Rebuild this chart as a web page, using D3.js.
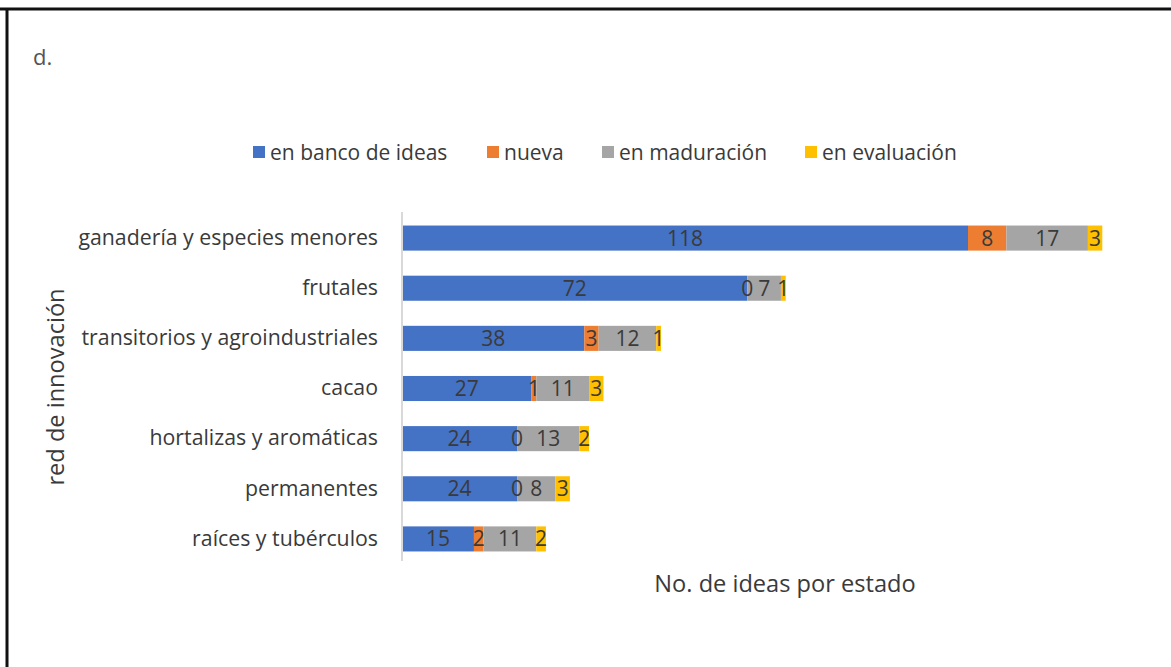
<!DOCTYPE html>
<html>
<head>
<meta charset="utf-8">
<script src="https://cdn.jsdelivr.net/npm/d3@7"></script>
<style>
  body { margin: 0; background: #fff; }
  text { font-family: "Open Sans", "Noto Sans", sans-serif; }
</style>
</head>
<body>
<svg id="chart"></svg>
<script>
// data
const categories = [
  "ganadería y especies menores",
  "frutales",
  "transitorios y agroindustriales",
  "cacao",
  "hortalizas y aromáticas",
  "permanentes",
  "raíces y tubérculos"
];
const seriesNames = ["en banco de ideas", "nueva", "en maduración", "en evaluación"];
const bancoIdeas = [118, 72, 38, 27, 24, 24, 15];
const nueva      = [8, 0, 3, 1, 0, 0, 2];
const maduracion = [17, 7, 12, 11, 13, 8, 11];
const evaluacion = [3, 1, 1, 3, 2, 3, 2];
const colours = ["#4472C4", "#ED7D31", "#A5A5A5", "#FFC000"];

const width = 1171, height = 667;
const svg = d3.select("#chart").attr("width", width).attr("height", height);

// page frame
svg.append("line").attr("x1", 0).attr("x2", width).attr("y1", 9).attr("y2", 9)
  .attr("stroke", "#111").attr("stroke-width", 3);
svg.append("line").attr("x1", 7).attr("x2", 7).attr("y1", 9).attr("y2", height)
  .attr("stroke", "#111").attr("stroke-width", 3);

svg.append("text").attr("x", 33).attr("y", 65)
  .attr("font-size", 22).attr("fill", "#555").text("d.");

const table = categories.map((c, i) => ({
  cat: c,
  "en banco de ideas": bancoIdeas[i],
  "nueva": nueva[i],
  "en maduración": maduracion[i],
  "en evaluación": evaluacion[i]
}));
const stacked = d3.stack().keys(seriesNames)(table);

const x = d3.scaleLinear().domain([0, 118]).range([402, 968]);
const y = d3.scaleBand().domain(categories).range([213, 564]).paddingInner(0.5).paddingOuter(0.25);

// bars
const layer = svg.append("g").selectAll("g").data(stacked).join("g")
  .attr("fill", (d, i) => colours[i]);
layer.selectAll("rect").data(d => d).join("rect")
  .attr("x", d => x(d[0]))
  .attr("y", d => y(d.data.cat))
  .attr("width", d => x(d[1]) - x(d[0]))
  .attr("height", y.bandwidth());

// value labels
const lab = svg.append("g").selectAll("g").data(stacked).join("g");
lab.selectAll("text").data(d => d.map(v => ({v, key: d.key}))).join("text")
  .attr("x", d => (x(d.v[0]) + x(d.v[1])) / 2)
  .attr("y", d => y(d.v.data.cat) + y.bandwidth() / 2)
  .attr("dy", "0.36em")
  .attr("text-anchor", "middle")
  .attr("font-size", 21)
  .attr("fill", "#3a3a3a")
  .text(d => d.v.data[d.key]);

// y axis
const yAxis = svg.append("g").attr("transform", "translate(402,0)")
  .call(d3.axisLeft(y).tickSize(0).tickPadding(24));
yAxis.select(".domain").attr("stroke", "#d9d9d9").attr("stroke-width", 2)
  .attr("d", "M0,212V561");
yAxis.selectAll(".tick text").attr("font-size", 21.3).attr("fill", "#3a3a3a")
  .attr("font-family", "'Open Sans', sans-serif");

// axis titles
svg.append("text").attr("x", 785).attr("y", 592).attr("text-anchor", "middle")
  .attr("font-size", 23.6).attr("fill", "#3a3a3a").text("No. de ideas por estado");
svg.append("text").attr("transform", "translate(64,387) rotate(-90)")
  .attr("text-anchor", "middle").attr("font-size", 23.6).attr("fill", "#3a3a3a")
  .text("red de innovación");

// legend
const legendX = [253, 487, 602, 805];
const leg = svg.append("g").selectAll("g").data(seriesNames).join("g")
  .attr("transform", (d, i) => `translate(${legendX[i]},152)`);
leg.append("rect").attr("x", 0).attr("y", -6).attr("width", 12).attr("height", 12)
  .attr("fill", (d, i) => colours[i]);
leg.append("text").attr("x", 17).attr("dy", "0.36em").attr("font-size", 21)
  .attr("fill", "#3a3a3a").text(d => d);
</script>
</body>
</html>
